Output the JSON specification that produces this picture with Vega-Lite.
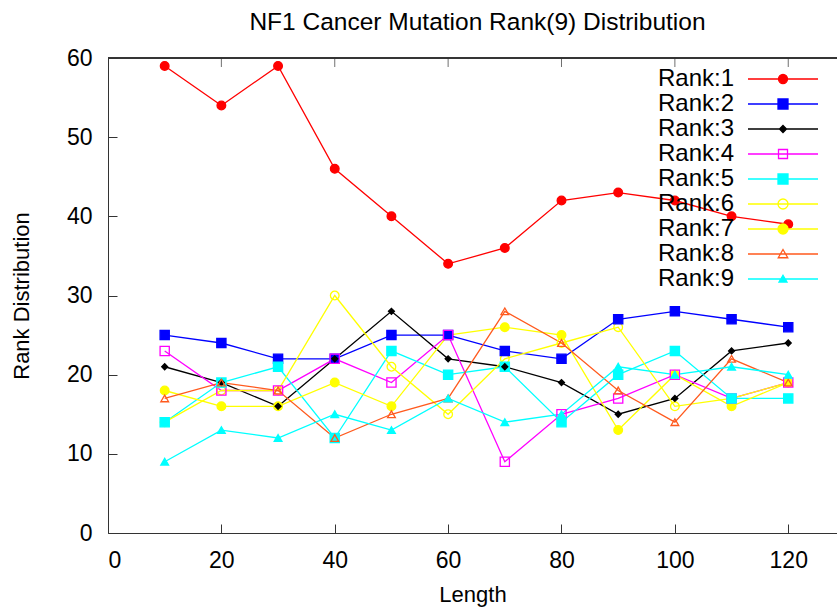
{
  "$schema": "https://vega.github.io/schema/vega-lite/v6.json",
  "autosize": "none",
  "padding": {"left": 108, "top": 58, "right": 0, "bottom": 76},
  "width": 729,
  "height": 475,
  "background": "white",
  "title": {
    "text": "NF1 Cancer Mutation Rank(9) Distribution",
    "font": "Liberation Sans",
    "fontSize": 24.5,
    "fontWeight": "normal",
    "color": "#000000",
    "anchor": "middle",
    "frame": "group",
    "dx": 5,
    "offset": 12
  },
  "config": {
    "view": {"stroke": null},
    "axis": {
      "labelFont": "Liberation Sans",
      "labelFontSize": 23,
      "labelColor": "#000000",
      "titleFont": "Liberation Sans",
      "titleFontSize": 22,
      "titleFontWeight": "normal",
      "titleColor": "#000000",
      "domainColor": "#333333",
      "tickColor": "#333333",
      "grid": false
    }
  },
  "datasets": {
    "ranks": [
      {"x": 10, "rank": "Rank:1", "v": 59}, {"x": 20, "rank": "Rank:1", "v": 54}, {"x": 30, "rank": "Rank:1", "v": 59}, {"x": 40, "rank": "Rank:1", "v": 46}, {"x": 50, "rank": "Rank:1", "v": 40}, {"x": 60, "rank": "Rank:1", "v": 34}, {"x": 70, "rank": "Rank:1", "v": 36}, {"x": 80, "rank": "Rank:1", "v": 42}, {"x": 90, "rank": "Rank:1", "v": 43}, {"x": 100, "rank": "Rank:1", "v": 42}, {"x": 110, "rank": "Rank:1", "v": 40}, {"x": 120, "rank": "Rank:1", "v": 39},
      {"x": 10, "rank": "Rank:2", "v": 25}, {"x": 20, "rank": "Rank:2", "v": 24}, {"x": 30, "rank": "Rank:2", "v": 22}, {"x": 40, "rank": "Rank:2", "v": 22}, {"x": 50, "rank": "Rank:2", "v": 25}, {"x": 60, "rank": "Rank:2", "v": 25}, {"x": 70, "rank": "Rank:2", "v": 23}, {"x": 80, "rank": "Rank:2", "v": 22}, {"x": 90, "rank": "Rank:2", "v": 27}, {"x": 100, "rank": "Rank:2", "v": 28}, {"x": 110, "rank": "Rank:2", "v": 27}, {"x": 120, "rank": "Rank:2", "v": 26},
      {"x": 10, "rank": "Rank:3", "v": 21}, {"x": 20, "rank": "Rank:3", "v": 19}, {"x": 30, "rank": "Rank:3", "v": 16}, {"x": 40, "rank": "Rank:3", "v": 22}, {"x": 50, "rank": "Rank:3", "v": 28}, {"x": 60, "rank": "Rank:3", "v": 22}, {"x": 70, "rank": "Rank:3", "v": 21}, {"x": 80, "rank": "Rank:3", "v": 19}, {"x": 90, "rank": "Rank:3", "v": 15}, {"x": 100, "rank": "Rank:3", "v": 17}, {"x": 110, "rank": "Rank:3", "v": 23}, {"x": 120, "rank": "Rank:3", "v": 24},
      {"x": 10, "rank": "Rank:4", "v": 23}, {"x": 20, "rank": "Rank:4", "v": 18}, {"x": 30, "rank": "Rank:4", "v": 18}, {"x": 40, "rank": "Rank:4", "v": 22}, {"x": 50, "rank": "Rank:4", "v": 19}, {"x": 60, "rank": "Rank:4", "v": 25}, {"x": 70, "rank": "Rank:4", "v": 9}, {"x": 80, "rank": "Rank:4", "v": 15}, {"x": 90, "rank": "Rank:4", "v": 17}, {"x": 100, "rank": "Rank:4", "v": 20}, {"x": 110, "rank": "Rank:4", "v": 17}, {"x": 120, "rank": "Rank:4", "v": 19},
      {"x": 10, "rank": "Rank:5", "v": 14}, {"x": 20, "rank": "Rank:5", "v": 19}, {"x": 30, "rank": "Rank:5", "v": 21}, {"x": 40, "rank": "Rank:5", "v": 12}, {"x": 50, "rank": "Rank:5", "v": 23}, {"x": 60, "rank": "Rank:5", "v": 20}, {"x": 70, "rank": "Rank:5", "v": 21}, {"x": 80, "rank": "Rank:5", "v": 14}, {"x": 90, "rank": "Rank:5", "v": 20}, {"x": 100, "rank": "Rank:5", "v": 23}, {"x": 110, "rank": "Rank:5", "v": 17}, {"x": 120, "rank": "Rank:5", "v": 17},
      {"x": 10, "rank": "Rank:6", "v": 14}, {"x": 20, "rank": "Rank:6", "v": 18}, {"x": 30, "rank": "Rank:6", "v": 18}, {"x": 40, "rank": "Rank:6", "v": 30}, {"x": 50, "rank": "Rank:6", "v": 21}, {"x": 60, "rank": "Rank:6", "v": 15}, {"x": 70, "rank": "Rank:6", "v": 22}, {"x": 80, "rank": "Rank:6", "v": 24}, {"x": 90, "rank": "Rank:6", "v": 26}, {"x": 100, "rank": "Rank:6", "v": 16}, {"x": 110, "rank": "Rank:6", "v": 17}, {"x": 120, "rank": "Rank:6", "v": 19},
      {"x": 10, "rank": "Rank:7", "v": 18}, {"x": 20, "rank": "Rank:7", "v": 16}, {"x": 30, "rank": "Rank:7", "v": 16}, {"x": 40, "rank": "Rank:7", "v": 19}, {"x": 50, "rank": "Rank:7", "v": 16}, {"x": 60, "rank": "Rank:7", "v": 25}, {"x": 70, "rank": "Rank:7", "v": 26}, {"x": 80, "rank": "Rank:7", "v": 25}, {"x": 90, "rank": "Rank:7", "v": 13}, {"x": 100, "rank": "Rank:7", "v": 20}, {"x": 110, "rank": "Rank:7", "v": 16}, {"x": 120, "rank": "Rank:7", "v": 19},
      {"x": 10, "rank": "Rank:8", "v": 17}, {"x": 20, "rank": "Rank:8", "v": 19}, {"x": 30, "rank": "Rank:8", "v": 18}, {"x": 40, "rank": "Rank:8", "v": 12}, {"x": 50, "rank": "Rank:8", "v": 15}, {"x": 60, "rank": "Rank:8", "v": 17}, {"x": 70, "rank": "Rank:8", "v": 28}, {"x": 80, "rank": "Rank:8", "v": 24}, {"x": 90, "rank": "Rank:8", "v": 18}, {"x": 100, "rank": "Rank:8", "v": 14}, {"x": 110, "rank": "Rank:8", "v": 22}, {"x": 120, "rank": "Rank:8", "v": 19},
      {"x": 10, "rank": "Rank:9", "v": 9}, {"x": 20, "rank": "Rank:9", "v": 13}, {"x": 30, "rank": "Rank:9", "v": 12}, {"x": 40, "rank": "Rank:9", "v": 15}, {"x": 50, "rank": "Rank:9", "v": 13}, {"x": 60, "rank": "Rank:9", "v": 17}, {"x": 70, "rank": "Rank:9", "v": 14}, {"x": 80, "rank": "Rank:9", "v": 15}, {"x": 90, "rank": "Rank:9", "v": 21}, {"x": 100, "rank": "Rank:9", "v": 20}, {"x": 110, "rank": "Rank:9", "v": 21}, {"x": 120, "rank": "Rank:9", "v": 20}
    ],
    "topticks": [{"t": 20}, {"t": 40}, {"t": 60}, {"t": 80}, {"t": 100}, {"t": 120}]
  },
  "layer": [
    {
      "data": {"name": "ranks"},
      "encoding": {
        "x": {
          "field": "x", "type": "quantitative",
          "scale": {"domain": [0, 128.6], "nice": false, "zero": false},
          "axis": {
            "title": "Length",
            "values": [0, 20, 40, 60, 80, 100, 120],
            "tickSize": -9,
            "labelPadding": 25,
            "titlePadding": 12
          }
        },
        "y": {
          "field": "v", "type": "quantitative",
          "scale": {"domain": [0, 60], "nice": false},
          "axis": {
            "title": "Rank Distribution",
            "values": [0, 10, 20, 30, 40, 50, 60],
            "tickSize": -9,
            "labelPadding": 25,
            "titlePadding": 33
          }
        },
        "stroke": {
          "field": "rank", "type": "nominal",
          "scale": {
            "domain": ["Rank:1", "Rank:2", "Rank:3", "Rank:4", "Rank:5", "Rank:6", "Rank:7", "Rank:8", "Rank:9"],
            "range": ["#ff0000", "#0000ff", "#000000", "#ff00ff", "#00ffff", "#ffff00", "#ffff00", "#ff5a1e", "#00ffff"]
          },
          "legend": {
            "title": null,
            "orient": "none",
            "legendX": 663,
            "legendY": 9,
            "padding": 0,
            "labelFont": "Liberation Sans",
            "labelFontSize": 24,
            "labelColor": "#000000",
            "labelAlign": "right",
            "labelOffset": -61,
            "symbolSize": 100,
            "symbolStrokeWidth": 1.3,
            "rowPadding": 1,
            "labelLimit": 200,
            "symbolType": {"expr": "['M-7,0H7M0.9,0A0.9,0.9 0 1,1 -0.9,0A0.9,0.9 0 1,1 0.9,0Z','M-7,0H7M-1,-1H1V1H-1Z','M-7,0H7M0,-0.7L0.7,0L0,0.7L-0.7,0Z','M-7,0H7M-0.9,-0.9H0.9V0.9H-0.9Z','M-7,0H7M-1,-1H1V1H-1Z','M-7,0H7M1,0A1,1 0 1,1 -1,0A1,1 0 1,1 1,0Z','M-7,0H7M1,0A1,1 0 1,1 -1,0A1,1 0 1,1 1,0Z','M-7,0H7M0,-0.9L0.95,0.75H-0.95Z','M-7,0H7M0,-0.75L0.8,0.6H-0.8Z'][indexof(['Rank:1','Rank:2','Rank:3','Rank:4','Rank:5','Rank:6','Rank:7','Rank:8','Rank:9'], datum.value)]"},
            "symbolFillColor": {"expr": "['#ff0000','#0000ff','#000000','transparent','#00ffff','transparent','#ffff00','transparent','#00ffff'][indexof(['Rank:1','Rank:2','Rank:3','Rank:4','Rank:5','Rank:6','Rank:7','Rank:8','Rank:9'], datum.value)]"},
            "symbolOpacity": 1
          }
        },
        "fill": {
          "field": "rank", "type": "nominal",
          "scale": {
            "domain": ["Rank:1", "Rank:2", "Rank:3", "Rank:4", "Rank:5", "Rank:6", "Rank:7", "Rank:8", "Rank:9"],
            "range": ["#ff0000", "#0000ff", "#000000", "transparent", "#00ffff", "transparent", "#ffff00", "transparent", "#00ffff"]
          },
          "legend": null
        }
      },
      "layer": [
        {
          "mark": {"type": "line", "strokeWidth": 1.3},
          "encoding": {"fill": {"value": null}, "detail": {"field": "rank", "type": "nominal"}}
        },
        {
          "transform": [{"filter": {"field": "rank", "oneOf": ["Rank:1", "Rank:6", "Rank:7"]}}],
          "mark": {"type": "point", "shape": "circle", "size": 75, "strokeWidth": 1.3, "opacity": 1}
        },
        {
          "transform": [{"filter": {"field": "rank", "oneOf": ["Rank:2", "Rank:4", "Rank:5"]}}],
          "mark": {"type": "point", "shape": "square", "size": 85, "strokeWidth": 1.3, "opacity": 1}
        },
        {
          "transform": [{"filter": {"field": "rank", "oneOf": ["Rank:3"]}}],
          "mark": {"type": "point", "shape": "diamond", "size": 35, "strokeWidth": 1.3, "opacity": 1}
        },
        {
          "transform": [{"filter": {"field": "rank", "oneOf": ["Rank:8", "Rank:9"]}}],
          "mark": {"type": "point", "shape": "triangle-up", "size": 60, "strokeWidth": 1.3, "opacity": 1}
        }
      ]
    },
    {
      "data": {"name": "topticks"},
      "mark": {"type": "rule", "color": "#333333", "strokeWidth": 1},
      "encoding": {"y": {"datum": 60}}
    },
    {
      "data": {"name": "topticks"},
      "mark": {"type": "tick", "orient": "vertical", "color": "#333333", "size": 9, "thickness": 1, "yOffset": 4.5},
      "encoding": {
        "x": {"field": "t", "type": "quantitative"},
        "y": {"datum": 60}
      }
    }
  ]
}
